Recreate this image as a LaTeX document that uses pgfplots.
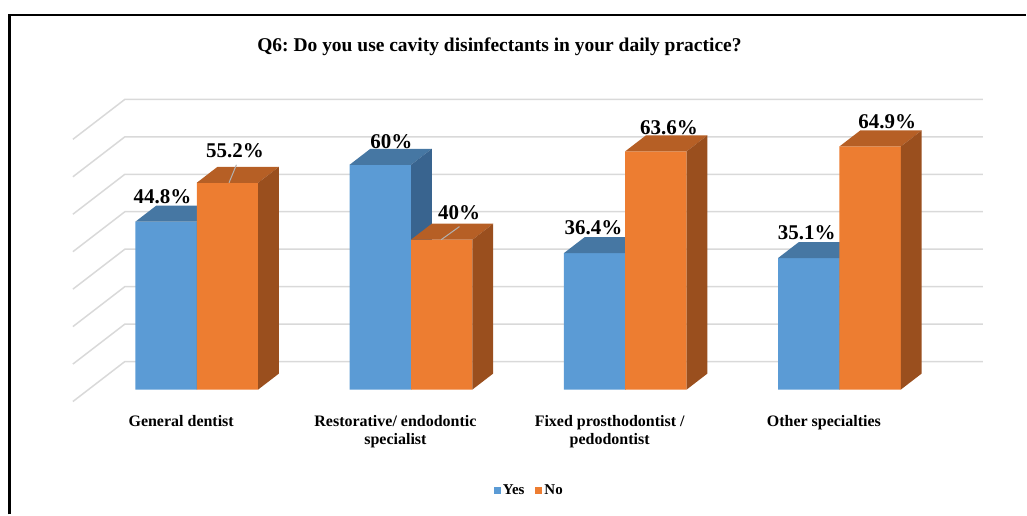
\documentclass[border=0pt]{standalone}
\usepackage{pgfplots}
\pgfplotsset{compat=1.18}
\usepackage{pgfplotstable}
\usepackage{fontspec}
\setmainfont{Liberation Serif}
\frenchspacing
\definecolor{yesfront}{HTML}{5B9BD5}
\definecolor{yestop}{HTML}{4677A3}
\definecolor{yesside}{HTML}{39648F}
\definecolor{nofront}{HTML}{ED7D31}
\definecolor{notop}{HTML}{B65F25}
\definecolor{noside}{HTML}{9A4F1E}
\definecolor{gridc}{HTML}{D9D9D9}

% x = bar centre (px), v = value (%), dx/dy = label offset (px)
\pgfplotstableread{
x      v     dx    dy
166.25 44.8  -3.5  25
380.75 60.0  11.0  23.3
595.25 36.4  -1.0  25.2
809.75 35.1  -2.0  25
}\yesdata
\pgfplotstableread{
x      v     dx    dy
227.75 55.2  7.5   32
442.25 40.0  17.5  26.7
656.75 63.6  13.0  23.2
871.25 64.9  17.0  25
}\nodata

\begin{document}
\begin{tikzpicture}
\begin{axis}[
  scale only axis, width=1027pt, height=515pt,
  xmin=0, xmax=1027, ymin=-33.3333, ymax=104,
  clip=false,
  axis line style={draw=none}, tick style={draw=none}, major tick length=0pt,
  ytick=\empty,
  xtick={181.4,395.9,610.4,824.9},
  xticklabels={General dentist,{Restorative/ endodontic\\specialist},{Fixed prosthodontist /\\pedodontist},Other specialties},
  xticklabel style={align=center, anchor=north, inner sep=0pt, yshift=99.5pt,
    font=\fontsize{16}{18}\selectfont\bfseries},
  /pgf/number format/assume math mode=true,
  title={Q6: Do you use cavity disinfectants in your daily practice?},
  title style={at={(0.4869,0.8874)}, anchor=base, inner sep=0pt,
    font=\fontsize{19.5}{22}\selectfont\bfseries},
  legend columns=2,
  legend style={at={(0.516,0.0466)}, anchor=center, draw=none, fill=none,
    font=\fontsize{15}{17}\selectfont\bfseries,
    /tikz/every even column/.append style={column sep=9pt}},
  every node near coord/.append style={font=\fontsize{21}{24}\selectfont\bfseries, anchor=center},
]
% gridlines (back wall and floor/side diagonals)
\addplot[forget plot, gridc, line width=1.5pt] coordinates {(73,-3.2) (125,7.467) (984,7.467)};
\addplot[forget plot, gridc, line width=1.5pt] coordinates {(73,6.8) (125,17.467) (984,17.467)};
\addplot[forget plot, gridc, line width=1.5pt] coordinates {(73,16.8) (125,27.467) (984,27.467)};
\addplot[forget plot, gridc, line width=1.5pt] coordinates {(73,26.8) (125,37.467) (984,37.467)};
\addplot[forget plot, gridc, line width=1.5pt] coordinates {(73,36.8) (125,47.467) (984,47.467)};
\addplot[forget plot, gridc, line width=1.5pt] coordinates {(73,46.8) (125,57.467) (984,57.467)};
\addplot[forget plot, gridc, line width=1.5pt] coordinates {(73,56.8) (125,67.467) (984,67.467)};
\addplot[forget plot, gridc, line width=1.5pt] coordinates {(73,66.8) (125,77.467) (984,77.467)};

% Yes bars: front faces
\addplot[ybar, bar width=61.5, bar shift=0pt, fill=yesfront, draw=none,
  legend image code/.code={\fill[yesfront] (0pt,-3.5pt) rectangle (7pt,3.5pt);},
  nodes near coords={\pgfmathprintnumber{\pgfplotspointmeta}\%}, point meta=y,
  visualization depends on={\thisrow{dx}\as\ldx},
  visualization depends on={\thisrow{dy}\as\ldy},
  every node near coord/.append style={xshift=\ldx pt, yshift=\ldy pt}]
  table[x=x, y=v] {\yesdata};
\addlegendentry{Yes}
% Yes bars: tops
\addplot[forget plot, fill=yestop, draw=none] coordinates {(135.5,44.8) (197,44.8) (217.8,49.067) (156.3,49.067)} -- cycle;
\addplot[forget plot, fill=yestop, draw=none] coordinates {(350,60) (411.5,60) (432.3,64.267) (370.8,64.267)} -- cycle;
\addplot[forget plot, fill=yestop, draw=none] coordinates {(564.5,36.4) (626,36.4) (646.8,40.667) (585.3,40.667)} -- cycle;
\addplot[forget plot, fill=yestop, draw=none] coordinates {(779,35.1) (840.5,35.1) (861.3,39.367) (799.8,39.367)} -- cycle;
% Yes bars: sides
\addplot[forget plot, fill=yesside, draw=none] coordinates {(197,0) (217.8,4.267) (217.8,49.067) (197,44.8)} -- cycle;
\addplot[forget plot, fill=yesside, draw=none] coordinates {(411.5,0) (432.3,4.267) (432.3,64.267) (411.5,60)} -- cycle;
\addplot[forget plot, fill=yesside, draw=none] coordinates {(626,0) (646.8,4.267) (646.8,40.667) (626,36.4)} -- cycle;
\addplot[forget plot, fill=yesside, draw=none] coordinates {(840.5,0) (861.3,4.267) (861.3,39.367) (840.5,35.1)} -- cycle;

% No bars: front faces
\addplot[ybar, bar width=61.5, bar shift=0pt, fill=nofront, draw=none,
  legend image code/.code={\fill[nofront] (0pt,-3.5pt) rectangle (7pt,3.5pt);},
  nodes near coords={\pgfmathprintnumber{\pgfplotspointmeta}\%}, point meta=y,
  visualization depends on={\thisrow{dx}\as\ldx},
  visualization depends on={\thisrow{dy}\as\ldy},
  every node near coord/.append style={xshift=\ldx pt, yshift=\ldy pt}]
  table[x=x, y=v] {\nodata};
\addlegendentry{No}
% No bars: tops
\addplot[forget plot, fill=notop, draw=none] coordinates {(197,55.2) (258.5,55.2) (279.3,59.467) (217.8,59.467)} -- cycle;
\addplot[forget plot, fill=notop, draw=none] coordinates {(411.5,40) (473,40) (493.8,44.267) (432.3,44.267)} -- cycle;
\addplot[forget plot, fill=notop, draw=none] coordinates {(626,63.6) (687.5,63.6) (708.3,67.867) (646.8,67.867)} -- cycle;
\addplot[forget plot, fill=notop, draw=none] coordinates {(840.5,64.9) (902,64.9) (922.8,69.167) (861.3,69.167)} -- cycle;
% No bars: sides
\addplot[forget plot, fill=noside, draw=none] coordinates {(258.5,0) (279.3,4.267) (279.3,59.467) (258.5,55.2)} -- cycle;
\addplot[forget plot, fill=noside, draw=none] coordinates {(473,0) (493.8,4.267) (493.8,44.267) (473,40)} -- cycle;
\addplot[forget plot, fill=noside, draw=none] coordinates {(687.5,0) (708.3,4.267) (708.3,67.867) (687.5,63.6)} -- cycle;
\addplot[forget plot, fill=noside, draw=none] coordinates {(902,0) (922.8,4.267) (922.8,69.167) (902,64.9)} -- cycle;

% leader lines
\addplot[forget plot, gray!60, line width=1pt] coordinates {(229.3,55.2) (236.7,60)};
\addplot[forget plot, gray!60, line width=1pt] coordinates {(441.7,40) (460,43.5)};

% outer frame (top and left edges)
\draw[black, line width=2.5pt, line join=miter] (axis cs:9.5,-33.3333) -- (axis cs:9.5,100) -- (axis cs:1027,100);
\end{axis}
\end{tikzpicture}
\end{document}
